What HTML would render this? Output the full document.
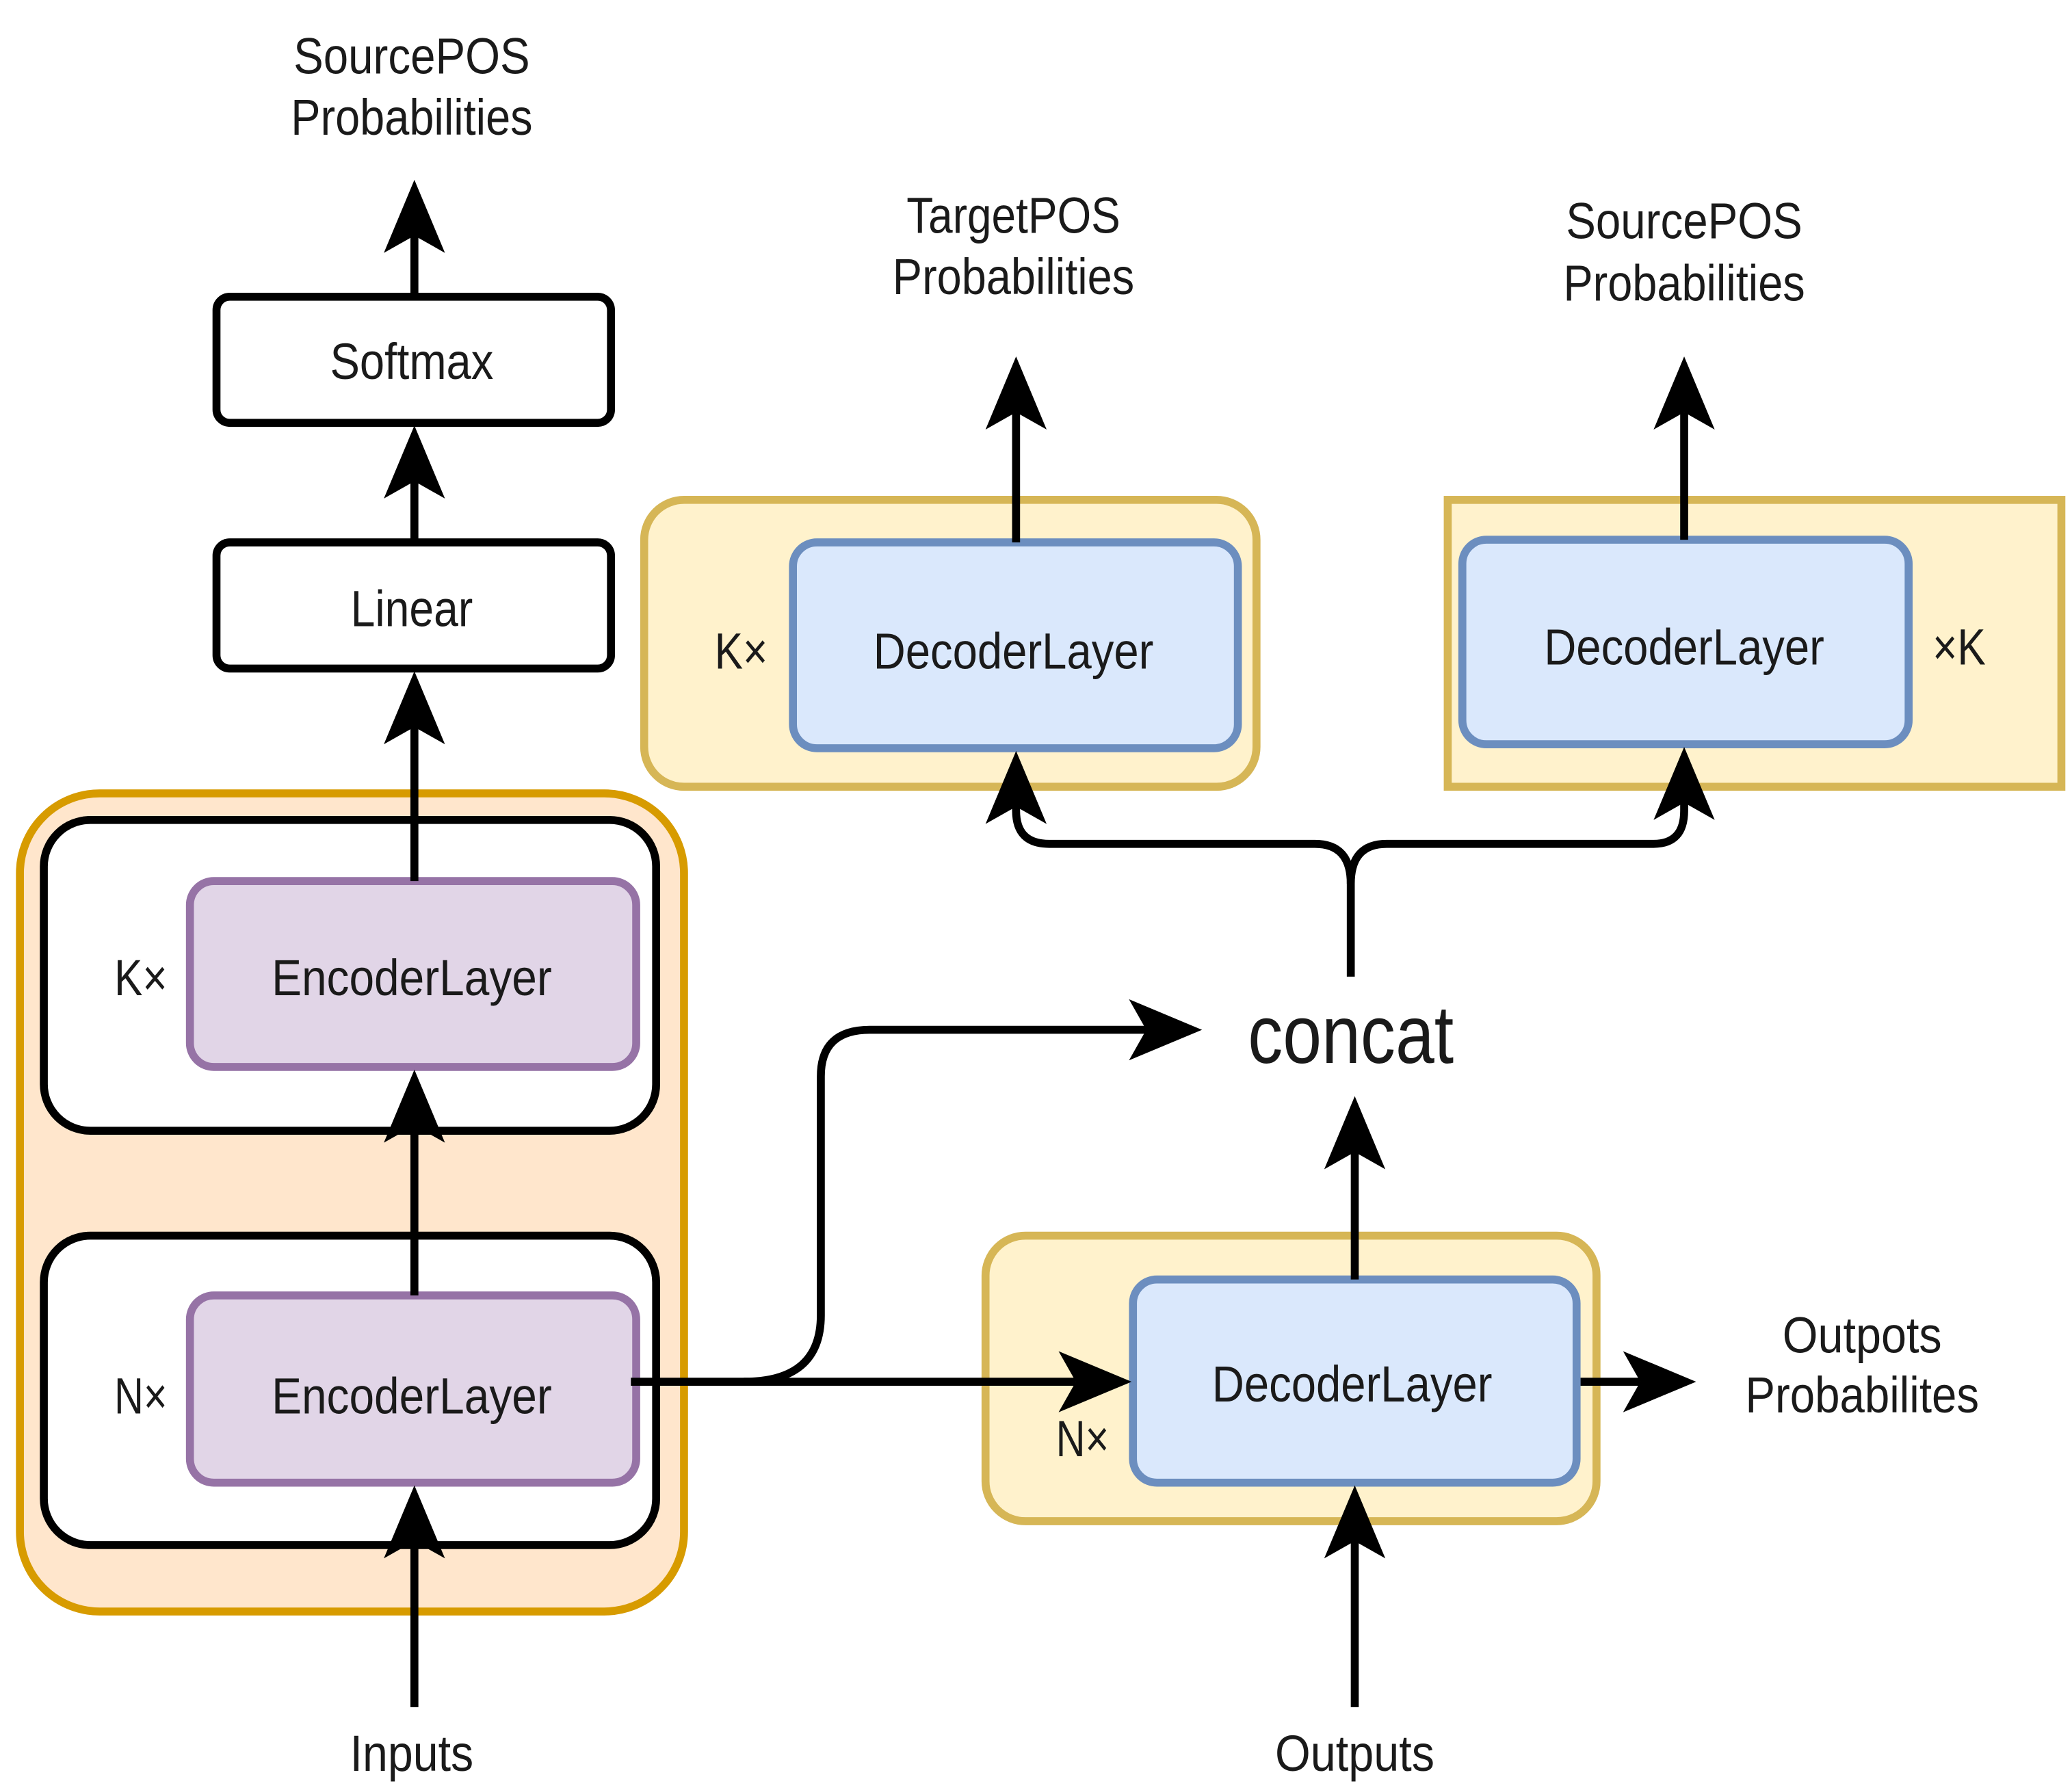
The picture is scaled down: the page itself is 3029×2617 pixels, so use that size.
<!DOCTYPE html>
<html><head><meta charset="utf-8"><style>html,body{margin:0;padding:0;background:#fff}svg{display:block}</style></head><body>
<svg width="3029" height="2617" viewBox="0 0 1560 1347" xmlns="http://www.w3.org/2000/svg" font-family="Liberation Sans, sans-serif" fill="#1a1a1a">
<rect width="1560" height="1347" fill="#fff"/>
<!-- encoder group -->
<rect x="15" y="597" width="500" height="616" rx="60" fill="#ffe6cc" stroke="#d79b00" stroke-width="6"/>
<rect x="33" y="617" width="461" height="234" rx="35" fill="#fff" stroke="#000" stroke-width="6"/>
<rect x="33" y="930" width="461" height="233" rx="35" fill="#fff" stroke="#000" stroke-width="6"/>
<rect x="143" y="663" width="336" height="140" rx="18" fill="#e1d5e7" stroke="#9673a6" stroke-width="6"/>
<rect x="143" y="975" width="336" height="141" rx="18" fill="#e1d5e7" stroke="#9673a6" stroke-width="6"/>
<!-- softmax / linear -->
<rect x="163" y="223" width="297" height="95" rx="10" fill="#fff" stroke="#000" stroke-width="6"/>
<rect x="163" y="408" width="297" height="95" rx="10" fill="#fff" stroke="#000" stroke-width="6"/>
<!-- top decoders -->
<rect x="485" y="376" width="461" height="216" rx="30" fill="#fff2cc" stroke="#d6b656" stroke-width="6"/>
<rect x="597" y="408" width="335" height="155" rx="18" fill="#dae8fc" stroke="#6c8ebf" stroke-width="6"/>
<rect x="1090" y="376" width="462" height="216" fill="#fff2cc" stroke="#d6b656" stroke-width="6"/>
<rect x="1101" y="406" width="336" height="154" rx="18" fill="#dae8fc" stroke="#6c8ebf" stroke-width="6"/>
<!-- bottom decoder -->
<rect x="742" y="930" width="460" height="215" rx="30" fill="#fff2cc" stroke="#d6b656" stroke-width="6"/>
<rect x="853" y="963" width="334" height="153" rx="18" fill="#dae8fc" stroke="#6c8ebf" stroke-width="6"/>
<!-- lines -->
<g stroke="#000" stroke-width="6" fill="none">
<line x1="312" y1="223" x2="312" y2="175"/>
<line x1="312" y1="408" x2="312" y2="360"/>
<line x1="312" y1="663" x2="312" y2="545"/>
<line x1="312" y1="975" x2="312" y2="845"/>
<line x1="312" y1="1285" x2="312" y2="1155"/>
<line x1="475" y1="1040" x2="810" y2="1040"/>
<path d="M560 1040 Q618 1040 618 990 L618 810 Q618 775 655 775 L865 775"/>
<line x1="1190" y1="1040" x2="1235" y2="1040"/>
<line x1="1020" y1="1285" x2="1020" y2="1155"/>
<line x1="1020" y1="963" x2="1020" y2="865"/>
<path d="M1017 735 L1017 665 Q1017 635 990 635 L790 635 Q765 635 765 610 L765 600"/>
<path d="M1017 665 Q1017 635 1044 635 L1245 635 Q1268 635 1268 610 L1268 600"/>
<line x1="765" y1="408" x2="765" y2="310"/>
<line x1="1268" y1="406" x2="1268" y2="310"/>
</g>
<!-- arrowheads -->
<g fill="#000">
<polygon points="312,135 335,190 312,177 289,190"/>
<polygon points="312,320 335,375 312,362 289,375"/>
<polygon points="312,505 335,560 312,547 289,560"/>
<polygon points="312,805 335,860 312,847 289,860"/>
<polygon points="312,1118 335,1173 312,1160 289,1173"/>
<polygon points="1020,1118 1043,1173 1020,1160 997,1173"/>
<polygon points="1020,825 1043,880 1020,867 997,880"/>
<polygon points="765,565 788,620 765,607 742,620"/>
<polygon points="1268,562 1291,617 1268,604 1245,617"/>
<polygon points="765,268 788,323 765,310 742,323"/>
<polygon points="1268,268 1291,323 1268,310 1245,323"/>
<polygon points="852,1040 797,1063 810,1040 797,1017"/>
<polygon points="905,775 850,798 863,775 850,752"/>
<polygon points="1277,1040 1222,1063 1235,1040 1222,1017"/>
</g>
<!-- text -->
<g font-size="38" text-anchor="middle" lengthAdjust="spacingAndGlyphs">
<text x="310" y="55" textLength="178" lengthAdjust="spacingAndGlyphs">SourcePOS</text>
<text x="310" y="101" textLength="182" lengthAdjust="spacingAndGlyphs">Probabilities</text>
<text x="310" y="285" textLength="123" lengthAdjust="spacingAndGlyphs">Softmax</text>
<text x="310" y="471" textLength="92" lengthAdjust="spacingAndGlyphs">Linear</text>
<text x="310" y="749" textLength="211" lengthAdjust="spacingAndGlyphs">EncoderLayer</text>
<text x="310" y="1064" textLength="211" lengthAdjust="spacingAndGlyphs">EncoderLayer</text>
<text x="106" y="749" textLength="40" lengthAdjust="spacingAndGlyphs">K×</text>
<text x="106" y="1064" textLength="40" lengthAdjust="spacingAndGlyphs">N×</text>
<text x="310" y="1333" textLength="93" lengthAdjust="spacingAndGlyphs">Inputs</text>
<text x="763" y="175" textLength="161" lengthAdjust="spacingAndGlyphs">TargetPOS</text>
<text x="763" y="221" textLength="182" lengthAdjust="spacingAndGlyphs">Probabilities</text>
<text x="1268" y="179" textLength="178" lengthAdjust="spacingAndGlyphs">SourcePOS</text>
<text x="1268" y="226" textLength="182" lengthAdjust="spacingAndGlyphs">Probabilities</text>
<text x="763" y="503" textLength="211" lengthAdjust="spacingAndGlyphs">DecoderLayer</text>
<text x="558" y="503" textLength="40" lengthAdjust="spacingAndGlyphs">K×</text>
<text x="1268" y="500" textLength="211" lengthAdjust="spacingAndGlyphs">DecoderLayer</text>
<text x="1475" y="500" textLength="40" lengthAdjust="spacingAndGlyphs">×K</text>
<text x="1018" y="1055" textLength="211" lengthAdjust="spacingAndGlyphs">DecoderLayer</text>
<text x="815" y="1096" textLength="40" lengthAdjust="spacingAndGlyphs">N×</text>
<text x="1402" y="1018" textLength="120" lengthAdjust="spacingAndGlyphs">Outpots</text>
<text x="1402" y="1063" textLength="176" lengthAdjust="spacingAndGlyphs">Probabilites</text>
<text x="1020" y="1333" textLength="120" lengthAdjust="spacingAndGlyphs">Outputs</text>
<text x="1017" y="800" font-size="62" textLength="155" lengthAdjust="spacingAndGlyphs">concat</text>
</g>
</svg>
</body></html>
